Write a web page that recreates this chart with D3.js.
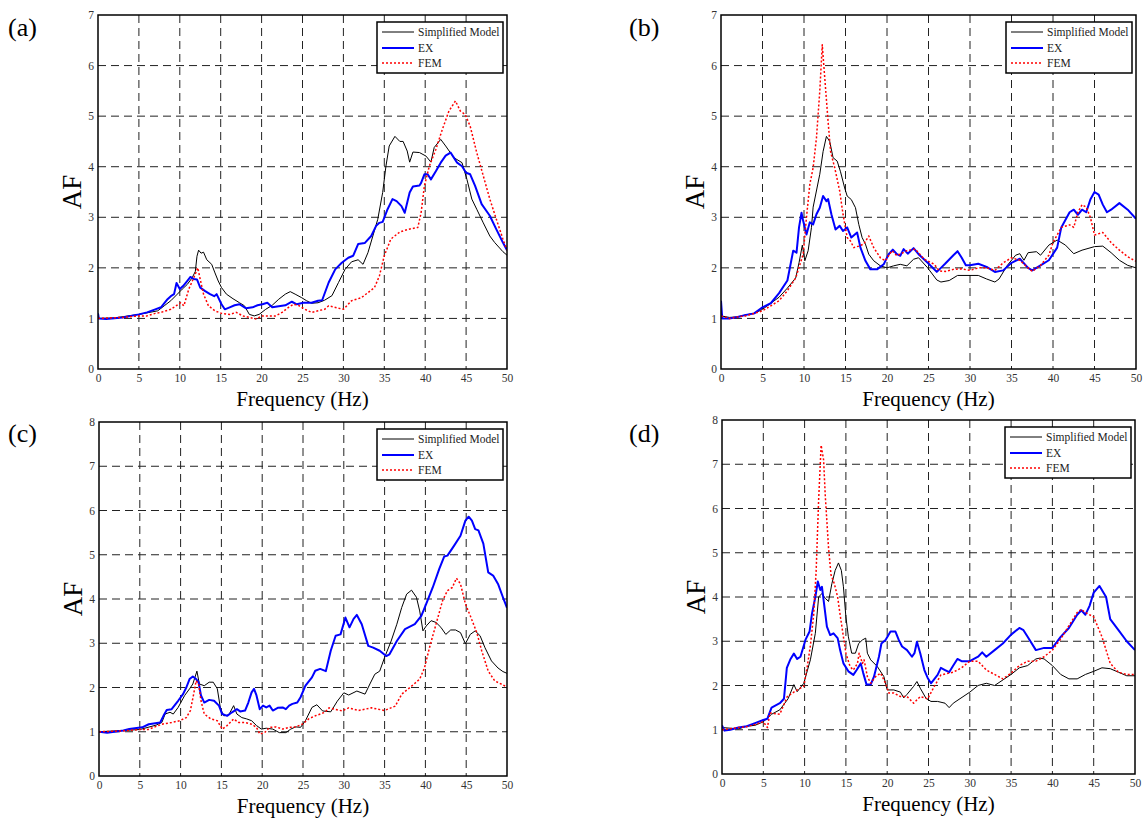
<!DOCTYPE html>
<html>
<head>
<meta charset="utf-8">
<script src="https://cdn.jsdelivr.net/npm/d3@7"></script>
<style>
  body { margin: 0; background: #fff; }
  svg text { font-family: "Liberation Serif", "Times New Roman", serif; }
</style>
</head>
<body>
<svg id="chart" width="1144" height="818"></svg>
<script>
// amplification factor curves, [frequency Hz, AF]
const aSim = [[0,1.0],[2,1.01],[5,1.08],[7.3,1.15],[8.1,1.25],[8.9,1.35],[9.7,1.48],[10.3,1.58],[10.9,1.67],[11.5,1.8],[11.9,1.93],[12.1,2.23],[12.3,2.35],[12.6,2.29],[12.9,2.31],[13.3,2.16],[13.9,2.07],[14.3,1.9],[14.7,1.74],[15.1,1.61],[15.7,1.48],[16.5,1.39],[17.3,1.31],[17.9,1.25],[18.5,1.08],[19.1,1.05],[19.7,1.08],[20.5,1.18],[21.3,1.26],[22.1,1.38],[22.9,1.48],[23.5,1.53],[24.1,1.48],[24.9,1.41],[25.5,1.35],[26.1,1.3],[26.9,1.31],[27.7,1.36],[28.6,1.45],[29.4,1.71],[30.2,1.97],[31.0,2.12],[31.8,2.16],[32.4,2.07],[33.0,2.3],[33.6,2.63],[34.2,2.96],[34.8,3.49],[35.2,4.01],[35.6,4.41],[36.3,4.6],[36.9,4.5],[37.3,4.5],[37.8,4.31],[38.1,4.09],[38.5,4.29],[39.3,4.28],[40.1,4.21],[40.7,4.09],[41.1,4.38],[41.9,4.54],[42.5,4.41],[43.5,4.18],[44.5,4.08],[45.1,3.75],[45.7,3.36],[46.3,3.16],[47.1,2.89],[47.9,2.63],[48.5,2.5],[49.5,2.32],[50,2.25]];
const aEx = [[0,1.1],[0.1,1.0],[1,0.99],[3,1.02],[5,1.08],[6,1.12],[7,1.18],[7.7,1.22],[8.5,1.38],[8.9,1.44],[9.3,1.48],[9.6,1.7],[10.0,1.58],[10.4,1.64],[10.9,1.74],[11.3,1.82],[11.7,1.78],[12.1,1.77],[12.5,1.61],[13.1,1.54],[13.7,1.48],[14.2,1.44],[14.5,1.48],[15.1,1.28],[15.5,1.18],[16.1,1.22],[16.7,1.26],[17.3,1.28],[18.1,1.2],[18.9,1.22],[19.5,1.26],[20.1,1.28],[20.7,1.31],[21.3,1.22],[22.1,1.24],[22.9,1.26],[23.7,1.33],[24.3,1.28],[25.1,1.31],[26.1,1.31],[26.9,1.35],[27.4,1.36],[28.2,1.71],[29.0,1.97],[29.8,2.1],[30.6,2.2],[31.2,2.24],[31.8,2.47],[32.6,2.49],[33.4,2.63],[34.0,2.83],[34.4,2.89],[34.8,2.91],[35.4,3.16],[36.0,3.36],[36.5,3.32],[37.1,3.22],[37.5,3.09],[38.1,3.49],[38.5,3.61],[39.3,3.63],[39.5,3.68],[39.9,3.85],[40.3,3.85],[40.7,3.75],[41.3,3.91],[41.9,4.08],[42.5,4.22],[43.1,4.28],[43.5,4.18],[43.9,4.08],[44.5,4.01],[45.0,3.88],[45.5,3.85],[46.1,3.62],[46.9,3.26],[47.9,3.03],[48.7,2.76],[49.5,2.5],[50,2.35]];
const aFem = [[0,1.0],[3,1.02],[5,1.05],[6,1.05],[7,1.1],[7.7,1.12],[8.9,1.18],[10.1,1.31],[10.5,1.25],[11.1,1.58],[11.7,1.8],[12.2,2.0],[12.5,1.77],[12.9,1.48],[13.5,1.25],[14.3,1.15],[15.1,1.1],[16.1,1.08],[16.9,1.12],[17.7,1.05],[18.5,1.02],[19.3,0.99],[20.1,1.05],[20.9,1.05],[21.7,1.05],[22.5,1.12],[23.3,1.22],[23.9,1.28],[24.5,1.26],[25.3,1.18],[26.1,1.12],[26.9,1.15],[27.7,1.18],[28.2,1.25],[30.0,1.18],[31.0,1.35],[32.2,1.41],[33.8,1.61],[34.4,1.84],[35.0,2.24],[35.8,2.57],[36.9,2.71],[37.9,2.76],[39.1,2.8],[39.5,3.09],[39.9,3.62],[40.5,4.01],[41.3,4.34],[42.1,4.74],[42.9,5.1],[43.7,5.3],[44.3,5.1],[44.9,5.03],[45.5,4.8],[46.3,4.28],[47.1,3.82],[47.9,3.36],[48.7,2.96],[49.5,2.57],[50,2.35]];

const bSim = [[0,1.05],[1,1.02],[2,1.03],[3,1.07],[4,1.1],[5,1.18],[6,1.3],[7,1.42],[8,1.6],[9,1.8],[9.4,2.1],[9.8,2.45],[10.1,2.14],[10.5,2.34],[10.9,2.8],[11.1,3.2],[11.9,3.85],[12.3,4.3],[12.7,4.6],[13.1,4.5],[13.5,4.18],[14.0,4.11],[14.4,3.9],[14.9,3.58],[15.2,3.42],[15.7,3.35],[16.2,3.19],[16.6,2.86],[17.0,2.6],[17.4,2.47],[17.8,2.27],[18.4,2.14],[19.2,2.04],[20.0,2.0],[20.8,2.04],[21.6,2.07],[22.4,2.04],[23.2,2.17],[23.8,2.2],[24.9,2.0],[26.0,1.76],[26.5,1.72],[27.5,1.75],[28.5,1.85],[30,1.85],[31,1.85],[32,1.78],[33,1.72],[33.5,1.78],[34.5,2.05],[35.5,2.25],[36,2.28],[36.5,2.15],[37,2.3],[38,2.32],[38.5,2.25],[39.5,2.45],[40.5,2.55],[41.5,2.45],[42.5,2.28],[43.5,2.35],[45,2.42],[46,2.43],[47,2.3],[48,2.15],[49,2.05],[50,2.0]];
const bEx = [[0,1.35],[0.15,1.0],[1,1.0],[2,1.03],[3,1.07],[4,1.1],[5,1.22],[6,1.3],[7,1.5],[8,1.75],[8.7,2.34],[9.1,2.3],[9.4,2.8],[9.7,3.09],[9.9,2.93],[10.3,2.66],[10.7,2.9],[11.1,2.86],[11.5,3.06],[11.9,3.19],[12.3,3.42],[12.7,3.32],[12.9,3.36],[13.3,3.06],[13.8,2.76],[14.3,2.83],[14.7,2.73],[15.2,2.8],[15.7,2.6],[16.4,2.7],[16.8,2.4],[17.4,2.14],[18.0,1.97],[18.8,1.97],[19.6,2.07],[20.2,2.27],[20.7,2.36],[21.2,2.27],[21.6,2.24],[22.0,2.37],[22.5,2.28],[23.2,2.39],[23.8,2.27],[24.9,2.1],[26.0,1.92],[26.5,2.0],[27,2.08],[28,2.25],[28.5,2.33],[29,2.2],[29.5,2.05],[30,2.05],[31,2.08],[32,2.02],[33,1.92],[34,1.95],[35,2.1],[36,2.18],[37,2.0],[37.5,1.95],[38.5,2.05],[39.5,2.15],[40.5,2.4],[41,2.8],[42,3.1],[42.5,3.15],[43,3.05],[43.5,3.15],[44,3.1],[44.5,3.35],[45,3.5],[45.5,3.45],[46,3.25],[46.5,3.1],[47,3.15],[48,3.28],[49,3.15],[50,2.97]];
const bFem = [[0,1.05],[1,1.0],[2,1.03],[3,1.05],[4,1.1],[5,1.15],[6,1.25],[7,1.35],[8,1.55],[9,1.8],[9.9,2.27],[10.3,3.0],[10.7,3.65],[11.1,3.98],[11.5,4.57],[11.9,5.49],[12.2,6.41],[12.5,5.76],[12.9,4.9],[13.2,4.3],[13.7,3.98],[14.3,3.52],[14.7,3.06],[15.2,2.6],[15.6,2.53],[16.0,2.4],[16.6,2.43],[17.2,2.47],[17.8,2.63],[18.4,2.4],[19.2,2.2],[19.8,2.14],[20.6,2.34],[21.2,2.24],[22.4,2.34],[23.4,2.37],[24.5,2.17],[25.7,2.07],[26.3,1.94],[27,1.93],[28,1.97],[29,1.98],[30,1.95],[31,2.0],[32,2.0],[33,1.95],[34,2.1],[35,2.2],[36,2.15],[37,2.0],[37.5,1.93],[38.5,2.05],[39.5,2.25],[40,2.5],[41,2.8],[42,2.85],[42.5,2.8],[43,3.1],[43.5,3.25],[44,3.2],[44.5,3.0],[45,2.65],[46,2.7],[47,2.5],[48,2.35],[49,2.22],[50,2.13]];

const cSim = [[0,1.0],[5,1.05],[7,1.15],[7.7,1.21],[8.1,1.4],[8.7,1.44],[9.1,1.4],[9.7,1.55],[10.5,1.82],[11.1,1.97],[11.5,2.08],[12.0,2.37],[12.3,2.08],[12.9,2.04],[13.5,2.12],[14.0,2.12],[14.5,1.97],[14.9,1.51],[15.3,1.36],[15.9,1.38],[16.5,1.59],[16.9,1.4],[17.5,1.32],[18.1,1.29],[18.7,1.25],[19.3,1.14],[19.9,1.06],[20.5,1.08],[21.3,1.06],[22.1,0.98],[22.9,0.98],[23.5,1.06],[24.1,1.11],[24.7,1.1],[25.3,1.25],[26.1,1.55],[26.7,1.61],[27.4,1.47],[28.4,1.45],[29.2,1.69],[30.0,1.88],[30.6,1.83],[31.6,1.92],[32.6,1.85],[33.2,2.08],[33.8,2.3],[34.4,2.37],[35.0,2.68],[35.8,3.05],[36.5,3.43],[37.1,3.81],[37.7,4.11],[38.3,4.2],[38.9,4.04],[39.3,3.73],[39.7,3.28],[40.1,3.39],[40.7,3.51],[41.3,3.47],[41.9,3.36],[42.5,3.2],[43.1,3.3],[43.7,3.3],[44.3,3.24],[44.9,2.99],[45.5,3.2],[46.1,3.28],[46.7,3.17],[47.3,2.9],[48.1,2.6],[48.9,2.44],[49.5,2.36],[50,2.32]];
const cEx = [[0,1.0],[1,0.98],[3,1.03],[3.7,1.06],[5.3,1.1],[6.1,1.17],[7.5,1.21],[7.9,1.36],[8.3,1.49],[8.9,1.51],[9.7,1.7],[10.3,1.85],[10.7,2.0],[11.1,2.19],[11.5,2.25],[11.9,2.19],[12.2,2.12],[12.5,1.82],[12.9,1.66],[13.5,1.72],[14.1,1.7],[14.7,1.59],[15.1,1.4],[15.7,1.36],[16.3,1.44],[16.9,1.51],[17.3,1.46],[17.9,1.48],[18.3,1.66],[18.7,1.89],[19.0,1.97],[19.3,1.82],[19.7,1.51],[20.1,1.59],[20.5,1.55],[20.9,1.59],[21.3,1.48],[21.9,1.54],[22.5,1.55],[22.9,1.51],[23.3,1.59],[23.7,1.63],[24.3,1.66],[24.7,1.78],[25.3,2.04],[26.1,2.23],[26.5,2.38],[27.1,2.42],[27.8,2.37],[28.4,2.83],[29.0,3.17],[29.6,3.2],[30.2,3.58],[30.7,3.36],[31.2,3.55],[31.6,3.64],[32.2,3.43],[33.0,2.94],[33.6,2.9],[34.4,2.83],[35.2,2.71],[35.6,2.75],[36.5,3.05],[37.5,3.32],[38.7,3.43],[39.5,3.62],[40.1,3.89],[40.9,4.26],[41.7,4.68],[42.3,4.96],[42.7,4.98],[43.5,5.2],[44.3,5.43],[44.9,5.77],[45.3,5.86],[45.7,5.77],[46.1,5.58],[46.5,5.55],[47.1,5.25],[47.7,4.6],[48.3,4.53],[48.9,4.34],[49.5,4.04],[50,3.8]];
const cFem = [[0,1.0],[3,1.02],[5,1.05],[6,1.05],[7.7,1.17],[8.9,1.21],[9.9,1.25],[10.7,1.32],[11.2,1.48],[11.6,1.85],[11.9,2.15],[12.2,2.08],[12.5,1.7],[12.9,1.4],[13.7,1.29],[14.5,1.25],[15.1,1.06],[15.7,1.14],[16.5,1.29],[17.1,1.21],[17.9,1.21],[18.7,1.17],[19.3,1.1],[19.7,0.95],[20.3,0.98],[20.9,1.1],[21.7,1.11],[22.5,1.06],[23.3,1.1],[24.1,1.11],[24.9,1.17],[25.7,1.29],[26.5,1.36],[27.7,1.44],[28.2,1.54],[29.8,1.47],[30.6,1.54],[31.8,1.48],[33.4,1.54],[35.0,1.48],[36.3,1.58],[37.1,1.85],[38.3,2.03],[39.3,2.19],[39.9,2.45],[40.5,2.9],[41.3,3.43],[42.1,3.96],[42.7,4.19],[43.3,4.26],[43.8,4.47],[44.3,4.34],[44.9,3.89],[45.5,3.62],[46.3,3.24],[46.9,2.83],[47.7,2.37],[48.5,2.15],[49.5,2.06],[50,2.0]];

const dSim = [[0,1.05],[2,1.02],[3,1.08],[4,1.1],[5,1.18],[6,1.35],[7,1.45],[8,1.7],[8.7,2.02],[9.1,1.86],[9.9,2.05],[10.7,2.58],[11.3,3.18],[11.7,4.0],[12.1,4.08],[12.5,3.97],[12.9,3.9],[13.3,4.3],[13.7,4.6],[14.1,4.77],[14.45,4.6],[14.7,4.23],[15.0,3.55],[15.3,3.1],[15.7,2.73],[16.15,2.73],[16.55,2.95],[17.0,3.03],[17.4,3.07],[17.6,2.73],[18.0,2.58],[18.8,2.43],[19.6,2.2],[20.0,1.9],[20.8,1.9],[21.6,1.85],[22,1.72],[22.4,1.8],[23.2,1.98],[23.6,2.09],[24.0,1.94],[24.7,1.71],[25.3,1.64],[26.1,1.64],[27,1.6],[27.5,1.5],[28,1.6],[30,1.85],[31,2.0],[32,2.05],[33,2.0],[35,2.25],[36,2.4],[37,2.45],[38,2.6],[38.5,2.62],[39,2.6],[40,2.45],[41,2.25],[42,2.15],[43,2.15],[44,2.25],[45,2.32],[46,2.4],[47,2.38],[48,2.3],[49,2.22],[50,2.22]];
const dEx = [[0,1.1],[0.3,0.98],[1,1.0],[2,1.05],[3,1.08],[4,1.15],[5,1.22],[5.5,1.25],[6,1.5],[7,1.6],[7.5,1.7],[7.85,2.4],[8.3,2.6],[8.7,2.72],[9.1,2.6],[9.5,2.65],[10.1,3.03],[10.6,3.22],[10.9,3.63],[11.3,4.0],[11.6,4.35],[11.9,4.16],[12.1,4.23],[12.4,3.78],[12.7,3.33],[13.1,3.14],[13.5,3.18],[14.0,3.07],[14.3,2.8],[14.7,2.5],[15.3,2.32],[15.9,2.24],[16.3,2.35],[16.8,2.5],[17.1,2.28],[17.5,2.02],[18.0,2.02],[18.4,2.2],[19.0,2.65],[19.3,2.95],[19.8,3.03],[20.4,3.22],[21.0,3.22],[21.4,3.03],[21.8,2.88],[22.4,2.8],[23.0,2.65],[23.3,2.73],[23.6,2.99],[24.0,2.73],[24.5,2.35],[24.9,2.17],[25.3,2.05],[26.1,2.24],[26.5,2.4],[27,2.35],[27.5,2.3],[28,2.45],[28.5,2.6],[29,2.55],[30,2.55],[30.5,2.6],[31,2.65],[31.5,2.75],[32,2.65],[33,2.8],[34,2.95],[35,3.15],[36,3.3],[36.5,3.25],[37,3.1],[38,2.8],[39,2.85],[40,2.85],[41,3.1],[42,3.3],[43,3.6],[43.5,3.7],[44,3.6],[44.5,3.8],[45,4.1],[45.7,4.25],[46.5,4.0],[47,3.5],[48,3.25],[49,3.0],[50,2.8]];
const dFem = [[0,1.0],[2,1.05],[3,1.07],[4,1.12],[5,1.18],[5.5,1.05],[5.8,1.38],[7,1.35],[7.9,1.75],[9.1,1.9],[9.9,1.98],[10.3,2.4],[10.7,2.9],[11.1,3.6],[11.4,4.6],[11.7,6.2],[12.0,7.43],[12.3,7.1],[12.5,6.3],[12.9,5.1],[13.2,4.5],[13.6,4.3],[14.0,4.0],[14.3,3.6],[14.7,3.1],[15.0,2.73],[15.5,2.43],[15.9,2.35],[16.4,2.5],[16.6,2.73],[17.0,2.5],[17.2,2.58],[17.6,2.2],[18.0,2.05],[18.6,2.2],[19.2,2.28],[19.8,2.05],[20.2,1.83],[20.8,1.83],[21.6,1.75],[22.4,1.75],[23.2,1.6],[24.0,1.75],[24.9,1.7],[25.7,1.98],[26.5,2.24],[28,2.3],[29,2.4],[30,2.55],[31,2.55],[32,2.35],[33,2.25],[34,2.15],[35,2.28],[36,2.45],[37,2.55],[38,2.55],[39,2.65],[40,2.8],[41,3.05],[42,3.35],[43,3.65],[43.5,3.72],[44,3.65],[45,3.55],[46,3.1],[47,2.5],[48,2.3],[49,2.25],[50,2.25]];

const xTicks = [0, 5, 10, 15, 20, 25, 30, 35, 40, 45, 50];
const legendNames = ["Simplified Model", "EX", "FEM"];

const svg = d3.select('#chart');

const styles = [
  { color: '#000', width: 1, dash: null },
  { color: '#0000ff', width: 2, dash: null },
  { color: '#ff0000', width: 1.5, dash: '2,2' }
];

const panels = [
  { tag: '(a)', x0: 98, x1: 507, y0: 15, y1: 369, ymax: 7, lx: 8, ly: 36, series: [aSim, aEx, aFem] },
  { tag: '(b)', x0: 721, x1: 1136, y0: 15, y1: 369, ymax: 7, lx: 629, ly: 36, series: [bSim, bEx, bFem] },
  { tag: '(c)', x0: 99, x1: 507, y0: 422, y1: 776, ymax: 8, lx: 8, ly: 442, series: [cSim, cEx, cFem] },
  { tag: '(d)', x0: 722, x1: 1135, y0: 420, y1: 774, ymax: 8, lx: 629, ly: 442, series: [dSim, dEx, dFem] }
];

panels.forEach(p => {
  const x = d3.scaleLinear().domain([0, 50]).range([p.x0, p.x1]);
  const y = d3.scaleLinear().domain([0, p.ymax]).range([p.y1, p.y0]);
  const g = svg.append('g');

  // dashed grid
  g.append('g')
    .selectAll('line')
    .data(xTicks.slice(1, -1))
    .join('line')
    .attr('x1', d => x(d)).attr('x2', d => x(d))
    .attr('y1', p.y0).attr('y2', p.y1)
    .attr('stroke', '#222').attr('stroke-width', 1).attr('stroke-dasharray', '8,5');
  g.append('g')
    .selectAll('line')
    .data(d3.range(1, p.ymax))
    .join('line')
    .attr('x1', p.x0).attr('x2', p.x1)
    .attr('y1', d => y(d)).attr('y2', d => y(d))
    .attr('stroke', '#222').attr('stroke-width', 1).attr('stroke-dasharray', '8,5');

  // axes
  const xAxis = g.append('g')
    .attr('transform', `translate(0,${p.y1})`)
    .call(d3.axisBottom(x).tickValues(xTicks).tickSize(0).tickPadding(5));
  const yAxis = g.append('g')
    .attr('transform', `translate(${p.x0},0)`)
    .call(d3.axisLeft(y).ticks(p.ymax).tickSize(0).tickPadding(4));
  [xAxis, yAxis].forEach(a => {
    a.select('.domain').remove();
    a.selectAll('text')
      .attr('font-size', 11.5)
      .attr('fill', '#333');
  });

  // curves
  const line = d3.line().x(d => x(d[0])).y(d => y(d[1]));
  const clipId = 'clip' + p.tag.replace(/\W/g, '');
  svg.append('clipPath').attr('id', clipId)
    .append('rect').attr('x', p.x0).attr('y', p.y0)
    .attr('width', p.x1 - p.x0).attr('height', p.y1 - p.y0);
  g.append('g').attr('clip-path', `url(#${clipId})`)
    .selectAll('path')
    .data(p.series)
    .join('path')
    .attr('d', line)
    .attr('fill', 'none')
    .attr('stroke', (d, i) => styles[i].color)
    .attr('stroke-width', (d, i) => styles[i].width)
    .attr('stroke-dasharray', (d, i) => styles[i].dash)
    .attr('stroke-linejoin', 'round');

  // frame
  g.append('rect')
    .attr('x', p.x0).attr('y', p.y0)
    .attr('width', p.x1 - p.x0).attr('height', p.y1 - p.y0)
    .attr('fill', 'none').attr('stroke', '#000').attr('stroke-width', 1.5);

  // legend
  const lw = 126, lh = 51;
  const lg = g.append('g').attr('transform', `translate(${p.x1 - 4 - lw},${p.y0 + 7})`);
  lg.append('rect').attr('width', lw).attr('height', lh)
    .attr('fill', '#fff').attr('stroke', '#000').attr('stroke-width', 1.5);
  const rows = lg.selectAll('g')
    .data(legendNames)
    .join('g')
    .attr('transform', (d, i) => `translate(0,${[10, 26, 41][i]})`);
  rows.append('line')
    .attr('x1', 5).attr('x2', 37)
    .attr('stroke', (d, i) => styles[i].color)
    .attr('stroke-width', (d, i) => styles[i].width)
    .attr('stroke-dasharray', (d, i) => styles[i].dash);
  rows.append('text')
    .attr('x', 41).attr('y', 4)
    .attr('font-size', 11.5)
    .attr('fill', '#222')
    .text(d => d);

  // labels
  g.append('text')
    .attr('x', (p.x0 + p.x1) / 2).attr('y', p.y1 + 37)
    .attr('text-anchor', 'middle')
    .attr('font-size', 21)
    .text('Frequency (Hz)');
  g.append('text')
    .attr('transform', `translate(${p.x0 - 17},${(p.y0 + p.y1) / 2}) rotate(-90)`)
    .attr('text-anchor', 'middle')
    .attr('font-size', 27)
    .text('AF');
  g.append('text')
    .attr('x', p.lx).attr('y', p.ly)
    .attr('font-size', 26)
    .text(p.tag);
});
</script>
</body>
</html>
